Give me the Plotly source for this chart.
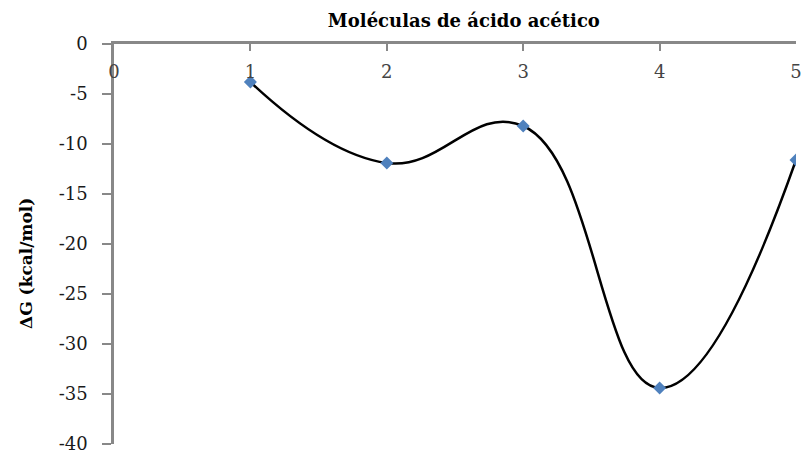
import plotly.graph_objects as go

# Número de moléculas de ácido acético y energía libre asociada
moleculas = [1, 2, 3, 4, 5]
delta_g = [-3.8, -11.9, -8.2, -34.4, -11.6]

x_ticks = [0, 1, 2, 3, 4, 5]
y_ticks = [0, -5, -10, -15, -20, -25, -30, -35, -40]

font_family = "DejaVu Serif, Liberation Serif, serif"

fig = go.Figure()
fig.add_trace(go.Scatter(
    x=moleculas,
    y=delta_g,
    mode="lines+markers",
    line=dict(color="black", width=2.5, shape="spline", smoothing=1.25),
    marker=dict(symbol="diamond", size=10, color="#4F81BD"),
    showlegend=False,
))

fig.update_layout(
    width=807,
    height=459,
    margin=dict(l=114, r=5, t=44, b=11),
    paper_bgcolor="white",
    plot_bgcolor="white",
    font=dict(family=font_family, size=18, color="#1a1a1a"),
    title=dict(
        text="<b>Moléculas de ácido acético</b>",
        x=0.513, xref="paper", xanchor="center",
        y=0.955, yref="container", yanchor="middle",
        font=dict(size=18, color="black"),
    ),
)

# Etiqueta del eje vertical
fig.add_annotation(
    text="<b>ΔG (kcal/mol)</b>",
    textangle=-90,
    xref="paper", yref="paper",
    x=-0.129, y=0.45,
    xanchor="center", yanchor="middle",
    showarrow=False,
    font=dict(size=17, color="black"),
)

fig.update_xaxes(
    range=[0, 5],
    side="top",
    tickvals=x_ticks,
    ticktext=[str(v) for v in x_ticks],
    ticks="inside",
    ticklen=7,
    tickcolor="#888",
    tickwidth=2,
    ticklabelposition="inside",
    ticklabelstandoff=15,
    ticklabeloverflow="allow",
    showline=True,
    linecolor="#888",
    linewidth=2.5,
    showgrid=False,
    zeroline=False,
)

fig.update_yaxes(
    range=[-40, 0],
    tickvals=y_ticks,
    ticktext=[str(v) for v in y_ticks],
    ticks="outside",
    ticklen=9,
    tickcolor="#888",
    tickwidth=2,
    ticklabelstandoff=11,
    showline=True,
    linecolor="#888",
    linewidth=2.5,
    showgrid=False,
    zeroline=False,
)

fig.write_html("out.html")
